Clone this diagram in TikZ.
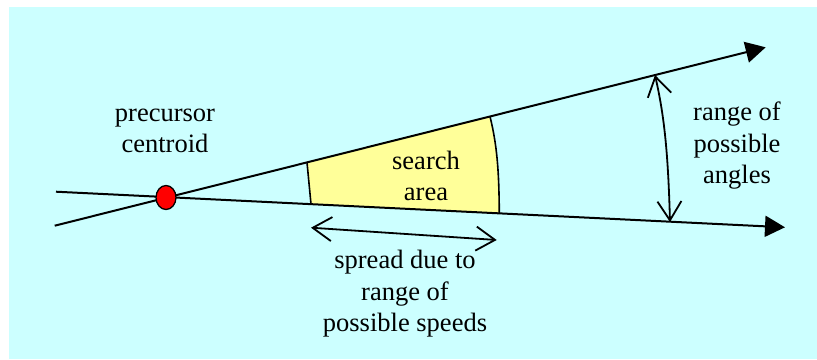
\documentclass[tikz,border=0pt]{standalone}
\usepackage{fontspec}
\setmainfont{Liberation Serif}
\usetikzlibrary{arrows.meta,positioning,calc,shapes.geometric}
\definecolor{skycyan}{HTML}{CCFFFF}
\definecolor{searchyellow}{HTML}{FFFF99}
\definecolor{centroidred}{HTML}{FF0000}
\tikzset{
  ray/.style        = {line width=2pt, -{Triangle[length=20pt, width=21pt]}},
  span/.style       = {line width=1.8pt, {Straight Barb[length=19pt, width=24pt]}-{Straight Barb[length=19pt, width=24pt]}},
  edge/.style       = {line width=1.6pt},
  centroid/.style   = {ellipse, draw, line width=1.3pt, fill=centroidred,
                       minimum width=20pt, minimum height=24pt, inner sep=0pt},
  lbl/.style        = {font=\fontsize{26.5}{31.5}\selectfont, align=center, inner sep=0pt},
}

\begin{document}
\begin{tikzpicture}[x=1pt, y=-1pt]
  \useasboundingbox (0,0) rectangle (817,359);
  \fill[skycyan] (9,7) rectangle (817,359);
  % rays through the centroid
  \coordinate (upstart) at (54.7,225.7);
  \coordinate (upend)   at (765.7,47.3);
  \coordinate (lowstart) at (56,191.7);
  \coordinate (lowend)   at (785,227.3);
  % search area
  \coordinate (sa1) at (307,162.4);
  \coordinate (sa2) at (490,116.5);
  \coordinate (sa3) at (499.3,213.3);
  \coordinate (sa4) at (311,204.1);
  \fill[searchyellow] (sa1) -- (sa2) .. controls (497,145) and (499,170) .. (sa3) -- (sa4) -- cycle;
  \draw[edge] (sa1) -- (sa4);
  \draw[edge] (sa2) .. controls (497,145) and (499,170) .. (sa3);
  \draw[ray] (upstart) -- (upend);
  \draw[ray] (lowstart) -- (lowend);
  \node[centroid] (cen) at (166,197.5) {};
  \node[lbl] (cenlbl) at (165,131) {precursor\\centroid};
  \node[lbl] (searchlbl) at (426,176) {search\\area};
  % spread and angle ranges
  \coordinate (spl) at (311,227.7);
  \coordinate (spr) at (496.7,240);
  \draw[span] (spl) -- (spr);
  \node[lbl] (spreadlbl) at (405,294) {spread due to\\range of\\possible speeds};
  \coordinate (angtop) at (655,75);
  \coordinate (angbot) at (670,222);
  \draw[span] (angtop) .. controls (664,115) and (668,150) .. (angbot);
  \node[lbl] (anglelbl) at (737,146) {range of\\possible\\angles};
\end{tikzpicture}
\end{document}
